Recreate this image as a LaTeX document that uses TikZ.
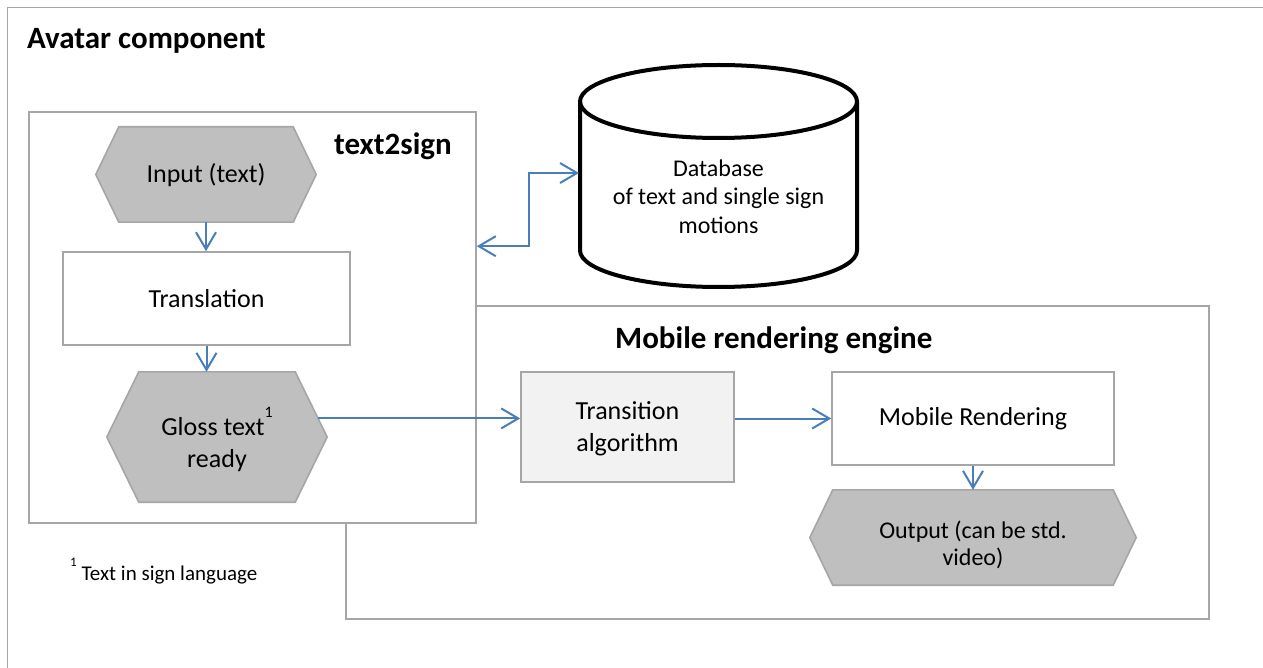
\documentclass[tikz,border=0pt]{standalone}
\usepackage{fontspec}
\setmainfont{Carlito}
\usetikzlibrary{arrows.meta,calc}

\definecolor{framegray}{HTML}{A6A6A6}
\definecolor{hexgray}{HTML}{BFBFBF}
\definecolor{lightfill}{HTML}{F2F2F2}
\definecolor{flowblue}{HTML}{4A7EBB}

\pgfdeclarelayer{frames}
\pgfdeclarelayer{shapes}
\pgfsetlayers{frames,shapes,main}

\newcommand\bodyfont{\fontsize{26}{32}\selectfont}
\newcommand\smallbody{\fontsize{24}{27.5}\selectfont}
\newcommand\headfont{\fontsize{31}{36}\selectfont\bfseries}
\newcommand\notefont{\fontsize{21}{25}\selectfont}
\newcommand\supnum[3]{\raisebox{#1}{\fontsize{#2}{#2}\selectfont #3}}
% centred lines set lower by #1 while keeping the natural box size
\newcommand\lowlines[2]{\raisebox{-#1}[\height][\depth]{\begin{tabular}{@{}c@{}}#2\end{tabular}}}

% hexagon outline behind a rectangular node: #1 node name, #2 tip depth
\newcommand\hexoutline[2]{%
  \begin{pgfonlayer}{shapes}
    \path[hexfill] (#1.north west) -- (#1.north east) -- ([xshift=#2]#1.east)
      -- (#1.south east) -- (#1.south west) -- ([xshift=-#2]#1.west) -- cycle;
  \end{pgfonlayer}}

\tikzset{
  frameline/.style={draw=framegray, line width=1.6pt},
  panel/.style={rectangle, draw=framegray, line width=1.6pt, fill=white, inner sep=0pt},
  procbox/.style={rectangle, draw=framegray, line width=1.6pt, fill=white,
    inner sep=0pt, align=center, font=\bodyfont},
  hexnode/.style={rectangle, inner sep=0pt, align=center, font=\bodyfont},
  hexfill/.style={draw=framegray, line width=1.6pt, fill=hexgray, line join=miter},
  heading/.style={anchor=base west, inner sep=0pt, font=\headfont},
  cylline/.style={draw=black, line width=4pt},
  barb/.tip={Straight Barb[length=17pt,width=20pt]},
  flow/.style={draw=flowblue, line width=2pt, -barb},
  biflow/.style={draw=flowblue, line width=2pt, barb-barb},
}

\begin{document}
\begin{tikzpicture}[x=1pt, y=-1pt]
\useasboundingbox (0,0) rectangle (1263,668);

% outer frame and sub-system panels
\begin{pgfonlayer}{frames}
  \draw[frameline] (7.5,668) -- (7.5,7.5) -- (1263,7.5);
  \node[panel, minimum width=863pt, minimum height=313pt] (engine) at (777.5,462.5) {};
  \node[panel, minimum width=447pt, minimum height=411pt] (t2s) at (252.5,317.5) {};
\end{pgfonlayer}

\node[heading] (avatar) at (27,49) {Avatar component};
\node[heading] (t2slabel) at (334,155) {text2sign};
\node[heading] (enginelabel) at (615,348) {Mobile rendering engine};

% text2sign flow
\node[hexnode, minimum width=174pt, minimum height=95pt] (input) at (206,174.5)
  {\lowlines{2pt}{Input (text)}};
\hexoutline{input}{23pt}
\node[procbox, minimum width=287pt, minimum height=93pt] (translation) at (206.5,298.5) {Translation};
\node[hexnode, minimum width=156pt, minimum height=130pt] (gloss) at (217,437)
  {\lowlines{5pt}{Gloss text\supnum{18pt}{16}{1}\\[0pt]ready}};
\hexoutline{gloss}{32pt}

% rendering engine flow
\node[procbox, fill=lightfill, minimum width=213pt, minimum height=110pt] (transition) at (627.5,427)
  {\lowlines{2.5pt}{Transition\\algorithm}};
\node[procbox, minimum width=282pt, minimum height=93pt] (mobile) at (973,418.5) {Mobile Rendering};
\node[hexnode, font=\smallbody, minimum width=280pt, minimum height=95pt] (output) at (973,537.5)
  {\lowlines{9pt}{Output (can be std.\\video)}};
\hexoutline{output}{23pt}

% database cylinder
\draw[cylline] (580,101.5) -- (580,250.5)
  arc[start angle=180, end angle=0, x radius=138.5, y radius=36.5] -- (857,101.5);
\draw[cylline] (718.5,101.5) ellipse [x radius=138.5, y radius=36.5];
\node[align=center, font=\fontsize{24}{28.5}\selectfont, inner sep=0pt] (db) at (718.5,196.5)
  {Database\\of text and single sign\\motions};

% footnote
\node[anchor=base west, inner sep=0pt, font=\notefont] (note) at (70,580)
  {\supnum{14pt}{13}{1} Text in sign language};

% connectors
\coordinate (t2sport) at ($(t2s.north east)+(0,135)$);
\coordinate (dbport) at (579,173);
\coordinate (glossport) at ($(gloss.north east)!0.715!([xshift=32pt]gloss.east)$);
\draw[flow] (input.south) -- (input.south |- translation.north);
\draw[flow] (translation.south) -- (translation.south |- gloss.north);
\draw[flow] (glossport) -- (glossport -| transition.west);
\draw[flow] (transition.east |- mobile.west) -- (mobile.west);
\draw[flow] (mobile.south) -- (mobile.south |- output.north);
\draw[biflow] (t2sport) -- ++(52,0) |- (dbport);
\end{tikzpicture}
\end{document}
